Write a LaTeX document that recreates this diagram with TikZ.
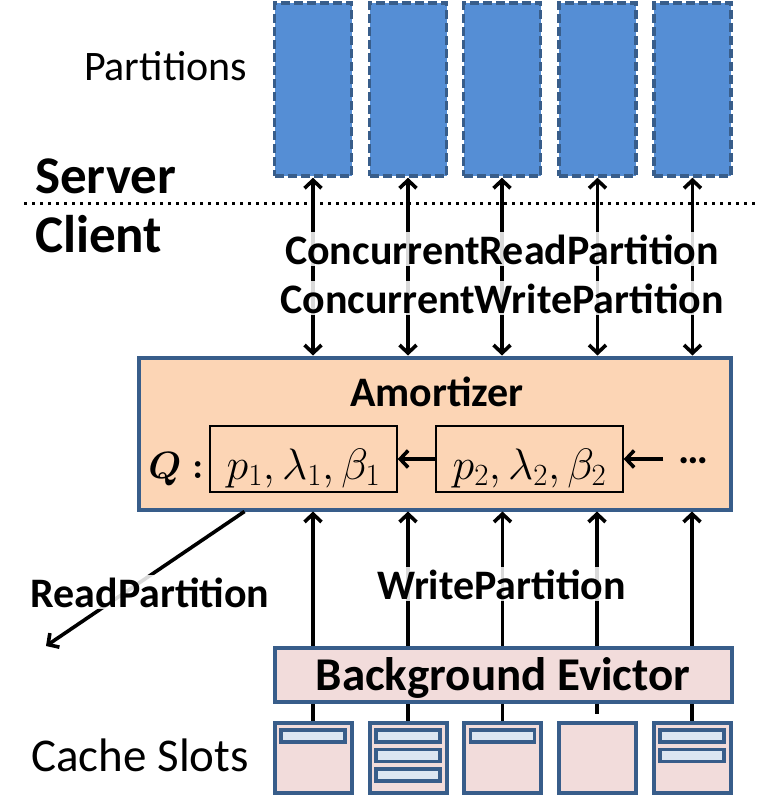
\RequirePackage{fix-cm}
\documentclass[tikz,border=0pt]{standalone}
\usepackage[no-math]{fontspec}
\setmainfont{Carlito}
\usepackage{amsmath}
\usepackage{bm}
\usetikzlibrary{arrows.meta,positioning}
\definecolor{bordc}{HTML}{385D8A}
\definecolor{partc}{HTML}{558ED5}
\definecolor{peachc}{HTML}{FCD5B5}
\definecolor{pinkc}{HTML}{F2DCDB}
\definecolor{barc}{HTML}{DCE6F2}
\newcommand{\bigbf}{\fontsize{42}{50}\selectfont\bfseries}

\begin{document}
\begin{tikzpicture}[x=1pt,y=-1pt,>={Straight Barb[length=8pt,width=17pt]},
  part/.style={draw=bordc,dash pattern=on 9pt off 4pt,line width=3.5pt,fill=partc,minimum width=77pt,minimum height=173pt,inner sep=0pt},
  slot/.style={draw=bordc,line width=4pt,fill=pinkc,minimum width=77pt,minimum height=70pt,inner sep=0pt},
  bar/.style={draw=bordc,line width=3.5pt,fill=barc,minimum width=64pt,minimum height=12pt,inner sep=0pt},
  lbl/.style={font=\bigbf,inner sep=2pt,fill=white,fill opacity=0.85,text opacity=1},
  arr/.style={line width=3.6pt}]
\useasboundingbox (0,0) rectangle (757,808);
\node[part] (pa1) at (313,89.5) {};
\node[part] (pa2) at (408,89.5) {};
\node[part] (pa3) at (502,89.5) {};
\node[part] (pa4) at (597.5,89.5) {};
\node[part] (pa5) at (692.5,89.5) {};
\node[font=\fontsize{42}{50}\selectfont,anchor=base,inner sep=0pt] (ptxt) at (165.5,81) {Partitions};
\node[font=\fontsize{53}{60}\selectfont\bfseries,anchor=base west,inner sep=0pt] (srv) at (35,193) {Server};
\node[font=\fontsize{53}{60}\selectfont\bfseries,anchor=base west,inner sep=0pt] (cli) at (35,252) {Client};
\coordinate (dl) at (24,203);
\coordinate (dr) at (757,203);
\draw[line width=3pt,dash pattern=on 3pt off 5pt] (dl) -- (dr);
\node[draw=bordc,line width=4pt,fill=peachc,minimum width=592pt,minimum height=152pt,inner sep=0pt] (am) at (434.5,433.5) {};
\node[font=\bigbf,anchor=base,inner sep=0pt] (amt) at (437,406) {Amortizer};
\node[font=\fontsize{38}{46}\selectfont,anchor=base,inner sep=0pt] (q) at (176,478) {$\bm{Q:}$};
\node[draw,line width=1.4pt,minimum width=187pt,minimum height=66pt,inner sep=0pt,text height=40pt,text depth=0pt,font=\fontsize{44}{52}\selectfont] (q1) at (303.5,459) {$p_1,\lambda_1,\beta_1$};
\node[draw,line width=1.4pt,minimum width=187pt,minimum height=66pt,inner sep=0pt,text height=40pt,text depth=0pt,font=\fontsize{44}{52}\selectfont] (q2) at (529.5,459) {$p_2,\lambda_2,\beta_2$};
\node[font=\bigbf,inner xsep=15pt,inner ysep=0pt,anchor=base] (dots) at (693.5,463) {…};
\draw[->,arr] (q2.west) -- (q1.east);
\draw[->,arr] (dots.west |- q2.east) -- (q2.east);
\draw[<->,arr] (pa1.south) -- (pa1.south |- am.north);
\draw[<->,arr] (pa2.south) -- (pa2.south |- am.north);
\draw[<->,arr] (pa3.south) -- (pa3.south |- am.north);
\draw[<->,arr] (pa4.south) -- (pa4.south |- am.north);
\draw[<->,arr] (pa5.south) -- (pa5.south |- am.north);
\node[lbl,anchor=base] (crp) at (502,264) {ConcurrentReadPartition};
\node[lbl,anchor=base] (cwp) at (502,313) {ConcurrentWritePartition};
\node[draw=bordc,line width=4pt,fill=pinkc,minimum width=457pt,minimum height=54pt,inner sep=0pt,font=\fontsize{47}{54}\selectfont\bfseries,text height=34pt,text depth=3pt] (ev) at (503,674.5) {Background Evictor};
\node[slot] (s1) at (313,757.5) {};
\node[slot] (s2) at (408,757.5) {};
\node[slot] (s3) at (502.5,757.5) {};
\node[slot] (s4) at (597,757.5) {};
\node[slot] (s5) at (692,757.5) {};
\node[bar,below=7.5pt of s1.north] (b11) {};
\node[bar,below=7.5pt of s2.north] (b21) {};
\node[bar,below=4pt of b21] (b22) {};
\node[bar,below=4pt of b22] (b23) {};
\node[bar,below=7.5pt of s3.north] (b31) {};
\node[bar,below=7.5pt of s5.north] (b51) {};
\node[bar,below=4pt of b51] (b52) {};
\draw[arr] (s1.north) -- (s1.north |- ev.south);
\draw[arr] (s2.north) -- (s2.north |- ev.south);
\draw[arr] (s3.north) -- (s3.north |- ev.south);
\draw[arr] (s4.north |- ev.south) -- ([yshift=7pt]s4.north);
\draw[arr] (s5.north) -- (s5.north |- ev.south);
\draw[->,arr] (s1.north |- ev.north) -- (s1.north |- am.south);
\draw[->,arr] (s2.north |- ev.north) -- (s2.north |- am.south);
\draw[->,arr] (s3.north |- ev.north) -- (s3.north |- am.south);
\draw[->,arr] (s4.north |- ev.north) -- (s4.north |- am.south);
\draw[->,arr] (s5.north |- ev.north) -- (s5.north |- am.south);
\node[lbl,anchor=base] (wp) at (501.5,599) {WritePartition};
\coordinate (rdend) at (46,646);
\draw[->,arr] ([xshift=108pt]am.south west) -- (rdend);
\node[lbl,anchor=base] (rp) at (150,607) {ReadPartition};
\node[font=\fontsize{47}{54}\selectfont,anchor=base,inner sep=0pt] (cs) at (140,771) {Cache Slots};
\end{tikzpicture}
\end{document}
